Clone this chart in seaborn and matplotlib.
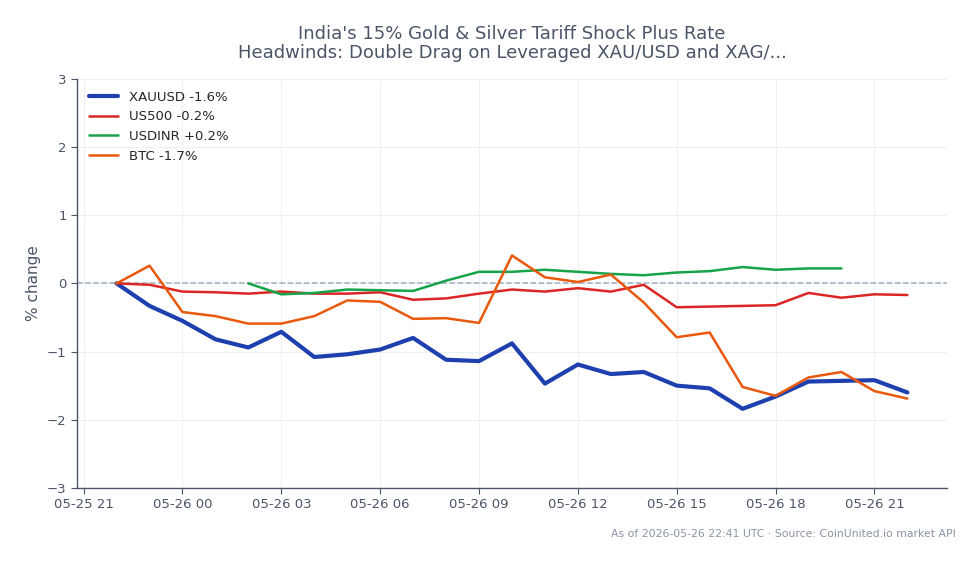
import pandas as pd
import numpy as np
import matplotlib.pyplot as plt
import matplotlib.dates as mdates
import seaborn as sns

# Hourly % change series
times = pd.date_range("2026-05-25 22:00", "2026-05-26 22:00", freq="h")
xauusd = [0.0, -0.33, -0.55, -0.82, -0.94, -0.71, -1.08, -1.04, -0.97, -0.80, -1.12, -1.14,
          -0.88, -1.47, -1.19, -1.33, -1.30, -1.50, -1.54, -1.84, -1.66, -1.44, -1.43, -1.42, -1.60]
us500 = [0.0, -0.02, -0.12, -0.13, -0.15, -0.12, -0.15, -0.15, -0.13, -0.24, -0.22, -0.15,
         -0.09, -0.12, -0.07, -0.12, -0.02, -0.35, -0.34, -0.33, -0.32, -0.14, -0.21, -0.16, -0.17]
usdinr = [np.nan] * 4 + [0.0, -0.16, -0.14, -0.09, -0.10, -0.11, 0.04, 0.17, 0.17, 0.20, 0.17,
                         0.14, 0.12, 0.16, 0.18, 0.24, 0.20, 0.22, 0.22] + [np.nan] * 2
btc = [0.0, 0.26, -0.42, -0.48, -0.59, -0.59, -0.48, -0.25, -0.27, -0.52, -0.51, -0.58,
       0.41, 0.09, 0.02, 0.13, -0.28, -0.79, -0.72, -1.52, -1.65, -1.38, -1.30, -1.58, -1.69]

series = {
    "XAUUSD -1.6%": (xauusd, "#1e40af", 3.0),
    "US500 -0.2%": (us500, "#dc2626", 1.8),
    "USDINR +0.2%": (usdinr, "#16a34a", 1.8),
    "BTC -1.7%": (btc, "#ea580c", 1.8),
}

sns.set_style("whitegrid", {"grid.color": "#edf0f4", "axes.edgecolor": "#4a5568"})
plt.rcParams["font.family"] = ["DejaVu Sans"]

fig = plt.figure(figsize=(9.79, 5.64), dpi=100)
ax = fig.add_axes([0.0787, 0.135, 0.8885, 0.725])

for label, (vals, color, lw) in series.items():
    df = pd.DataFrame({"time": times, "pct": vals}).dropna()
    sns.lineplot(data=df, x="time", y="pct", color=color, linewidth=lw, label=label, ax=ax)

ax.axhline(0, color="#a0aec0", linestyle="--", linewidth=1.1, zorder=1)

ax.set_ylim(-3, 3)
ax.set_yticks(range(-3, 4))
ax.xaxis.set_major_locator(mdates.HourLocator(byhour=range(0, 24, 3)))
ax.xaxis.set_major_formatter(mdates.DateFormatter("%m-%d %H"))
ax.set_xlabel("")
ax.set_ylabel("% change", fontsize=11, color="#4a5568")
ax.tick_params(axis="both", labelsize=9.5, colors="#4a5568", length=4, width=0.8, left=True, bottom=True)
for side in ["top", "right"]:
    ax.spines[side].set_visible(False)
for side in ["left", "bottom"]:
    ax.spines[side].set_color("#4a5568")
    ax.spines[side].set_linewidth(1.0)

ax.set_title("India's 15% Gold & Silver Tariff Shock Plus Rate\nHeadwinds: Double Drag on Leveraged XAU/USD and XAG/...",
             fontsize=13, color="#4a5568", pad=15, linespacing=1.05)
ax.legend(loc="upper left", frameon=False, fontsize=9.5, handlelength=2.2)

fig.text(0.976, 0.045, "As of 2026-05-26 22:41 UTC \u00b7 Source: CoinUnited.io market API",
         ha="right", va="bottom", fontsize=7.8, color="#8a94a3")

fig.savefig("out.png", dpi=100)
